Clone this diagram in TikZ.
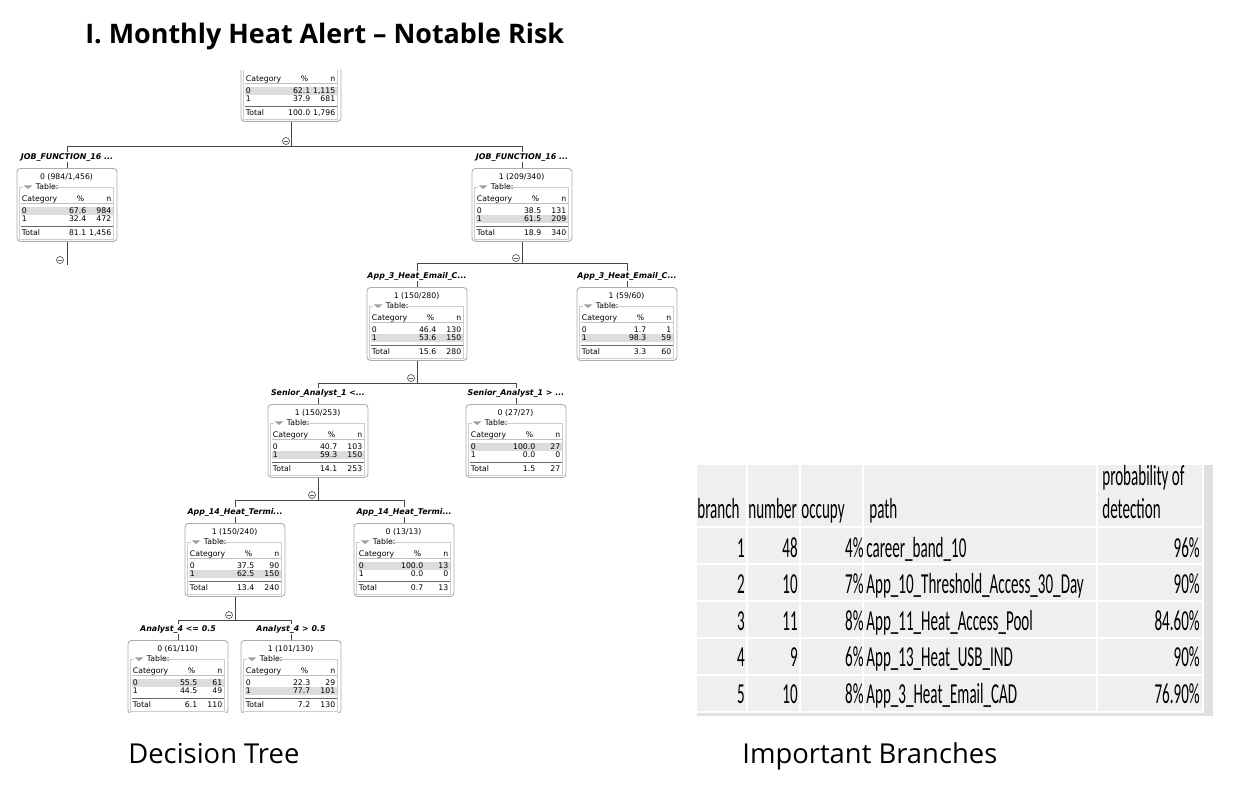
\documentclass[tikz,border=0pt]{standalone}
\usepackage{fontspec}
\usepackage{xcolor}
\usepackage{tikz}
\usetikzlibrary{positioning, calc}

\newfontfamily\headfont{Open Sans}
\newfontfamily\treefont{DejaVu Sans}
\newfontfamily\tabfont[FakeStretch=0.52]{Carlito}

\definecolor{tabbg}{HTML}{EDF0EC}
\definecolor{tabedge}{HTML}{E0E0E0}
\definecolor{rowhl}{HTML}{DCDCDC}

% table inside one tree box: name, class, hits, %0, n0, %1, n1, total %, total n
\newcommand{\boxtable}[9]{%
  \begin{scope}[shift={(#1.north west)}]
    \node[cell] (#1-hd) at (50,9) {#2 (#3/#9)};
    \draw[grp] (6,19) -- (3,19) -- (3,71) -- (97,71) -- (97,19) -- (36,19);
    \fill[gray!75] (7,17.3) -- (16,17.3) -- (11.5,21) -- cycle;
    \node[cell, anchor=west] (#1-tb) at (19,19) {Table:};
    \fill[rowhl] (4,{38.8+8*#2}) rectangle (96,{46.8+8*#2});
    \node[cell, anchor=west] (#1-ct) at (5,31) {Category};
    \node[cell, anchor=east] (#1-pc) at (68,31) {\%};
    \node[cell, anchor=east] (#1-nn) at (95,31) {n};
    \draw[gray!50, line width=0.3pt] (4,35.5) -- (96,35.5);
    \node[cell, anchor=west] (#1-r0) at (5,42.8) {0};
    \node[cell, anchor=east] (#1-p0) at (70,42.8) {#4};
    \node[cell, anchor=east] (#1-n0) at (95,42.8) {#5};
    \node[cell, anchor=west] (#1-r1) at (5,50.8) {1};
    \node[cell, anchor=east] (#1-p1) at (70,50.8) {#6};
    \node[cell, anchor=east] (#1-n1) at (95,50.8) {#7};
    \draw[gray!80!black, line width=0.5pt] (4,58.5) -- (96,58.5);
    \node[cell, anchor=west] (#1-r2) at (5,65) {Total};
    \node[cell, anchor=east] (#1-p2) at (70,65) {#8};
    \node[cell, anchor=east] (#1-n2) at (95,65) {#9};
  \end{scope}}

\begin{document}
\begin{tikzpicture}[
    x=0.02cm, y=-0.02cm,
    tbox/.style={rectangle, draw=gray!65, fill=white, rounded corners=2pt, minimum width=2cm, minimum height=1.46cm, inner sep=0pt, anchor=north, line width=0.5pt},
    cell/.style={font=\treefont\fontsize{4.4}{5}\selectfont, inner sep=0pt},
    split/.style={font=\treefont\bfseries\itshape\fontsize{4.5}{5}\selectfont, fill=white, inner sep=0.6pt},
    tgl/.style={circle, draw=gray!70!black, fill=white, minimum size=0.14cm, inner sep=0pt, line width=0.4pt,
        path picture={\draw[line width=0.4pt] ([xshift=0.8pt]path picture bounding box.west) -- ([xshift=-0.8pt]path picture bounding box.east);}},
    link/.style={draw=gray!55!black, line width=0.5pt},
    grp/.style={draw=gray!40, line width=0.3pt},
    tcell/.style={font=\tabfont\fontsize{16.5}{19}\selectfont, inner sep=0pt, text=black},
    ttl/.style={font=\headfont\bfseries\fontsize{15.3}{18}\selectfont, inner sep=0pt},
    capt/.style={font=\headfont\fontsize{15.6}{18}\selectfont, inner sep=0pt}
]
    \useasboundingbox (0,0) rectangle (1250,796);

    % Title and captions
    \node[ttl, anchor=base west] (title) at (85,43) {I. Monthly Heat Alert – Notable Risk};
    \node[capt, anchor=base west] (cap-tree) at (128,763) {Decision Tree};
    \node[capt, anchor=base west] (cap-tab) at (742,763) {Important Branches};

    % Decision tree
    \begin{scope}
    \clip (0,70) rectangle (700,712);
    \node[tbox] (root) at (291,48) {};
    \node[tbox] (jfl) at (67,168) {};
    \node[tbox] (jfr) at (522,168) {};
    \node[tbox] (eml) at (417,287) {};
    \node[tbox] (emr) at (627,287) {};
    \node[tbox] (sal) at (318,404) {};
    \node[tbox] (sar) at (516,404) {};
    \node[tbox] (tml) at (235,523) {};
    \node[tbox] (tmr) at (404,523) {};
    \node[tbox] (anl) at (178,640) {};
    \node[tbox] (anr) at (291,640) {};

    \boxtable{root}{0}{1,115}{62.1}{1,115}{37.9}{681}{100.0}{1,796}
    \boxtable{jfl}{0}{984}{67.6}{984}{32.4}{472}{81.1}{1,456}
    \boxtable{jfr}{1}{209}{38.5}{131}{61.5}{209}{18.9}{340}
    \boxtable{eml}{1}{150}{46.4}{130}{53.6}{150}{15.6}{280}
    \boxtable{emr}{1}{59}{1.7}{1}{98.3}{59}{3.3}{60}
    \boxtable{sal}{1}{150}{40.7}{103}{59.3}{150}{14.1}{253}
    \boxtable{sar}{0}{27}{100.0}{27}{0.0}{0}{1.5}{27}
    \boxtable{tml}{1}{150}{37.5}{90}{62.5}{150}{13.4}{240}
    \boxtable{tmr}{0}{13}{100.0}{13}{0.0}{0}{0.7}{13}
    \boxtable{anl}{0}{61}{55.5}{61}{44.5}{49}{6.1}{110}
    \boxtable{anr}{1}{101}{22.3}{29}{77.7}{101}{7.2}{130}

    % Splits
    \coordinate (b0) at (291,146);
    \coordinate (b1) at (522,263);
    \coordinate (b2) at (417,383);
    \coordinate (b3) at (318,500);
    \coordinate (b4) at (235,620);
    \coordinate (b5) at (67,265);

    \draw[link] (root.south) -- (b0);
    \draw[link] (jfl.north) |- (b0) -| (jfr.north);
    \draw[link] (jfl.south) -- (b5);
    \draw[link] (jfr.south) -- (b1);
    \draw[link] (eml.north) |- (b1) -| (emr.north);
    \draw[link] (eml.south) -- (b2);
    \draw[link] (sal.north) |- (b2) -| (sar.north);
    \draw[link] (sal.south) -- (b3);
    \draw[link] (tml.north) |- (b3) -| (tmr.north);
    \draw[link] (tml.south) -- (b4);
    \draw[link] (anl.north) |- (b4) -| (anr.north);

    \node[split] (s-jfl) at ($(jfl.north)+(0,-11)$) {JOB\_FUNCTION\_16 ...};
    \node[split] (s-jfr) at ($(jfr.north)+(0,-11)$) {JOB\_FUNCTION\_16 ...};
    \node[split] (s-eml) at ($(eml.north)+(0,-11)$) {App\_3\_Heat\_Email\_C...};
    \node[split] (s-emr) at ($(emr.north)+(0,-11)$) {App\_3\_Heat\_Email\_C...};
    \node[split] (s-sal) at ($(sal.north)+(0,-11)$) {Senior\_Analyst\_1 <...};
    \node[split] (s-sar) at ($(sar.north)+(0,-11)$) {Senior\_Analyst\_1 > ...};
    \node[split] (s-tml) at ($(tml.north)+(0,-11)$) {App\_14\_Heat\_Termi...};
    \node[split] (s-tmr) at ($(tmr.north)+(0,-11)$) {App\_14\_Heat\_Termi...};
    \node[split] (s-anl) at ($(anl.north)+(0,-11)$) {Analyst\_4 <= 0.5};
    \node[split] (s-anr) at ($(anr.north)+(0,-11)$) {Analyst\_4 > 0.5};

    \node[tgl] (t0) at ($(b0)+(-5,-5)$) {};
    \node[tgl] (t1) at ($(b1)+(-6,-5)$) {};
    \node[tgl] (t2) at ($(b2)+(-6,-5)$) {};
    \node[tgl] (t3) at ($(b3)+(-6,-5)$) {};
    \node[tgl] (t4) at ($(b4)+(-6,-5)$) {};
    \node[tgl] (t5) at ($(b5)+(-7,-5)$) {};
    \end{scope}

    % Important branches table
    \fill[tabedge] (697,465) rectangle (1213,716);
    \fill[tabbg] (697,465) rectangle (1203,712);
    \foreach \cx in {747,800,863,1097,1203}
        \draw[white, line width=1.2pt] (\cx,465) -- (\cx,712);
    \foreach \ry in {527,564,601,638,675,712}
        \draw[white, line width=1.2pt] (697,\ry) -- (1203,\ry);

    \node[tcell, anchor=base west] (h-branch) at (697,518) {branch};
    \node[tcell, anchor=base west] (h-number) at (748,518) {number};
    \node[tcell, anchor=base west] (h-occupy) at (801,518) {occupy};
    \node[tcell, anchor=base west] (h-path) at (869,518) {path};
    \node[tcell, anchor=base west] (h-prob) at (1102,485) {probability of};
    \node[tcell, anchor=base west] (h-det) at (1102,518) {detection};

    \foreach \br/\nb/\oc/\pa/\pr [count=\i] in {
        1/48/4/career\_band\_10/96\%,
        2/10/7/App\_10\_Threshold\_Access\_30\_Day/90\%,
        3/11/8/App\_11\_Heat\_Access\_Pool/84.60\%,
        4/9/6/App\_13\_Heat\_USB\_IND/90\%,
        5/10/8/App\_3\_Heat\_Email\_CAD/76.90\%}{
        \pgfmathsetmacro{\yb}{557+36.5*(\i-1)}
        \node[tcell, anchor=base east] (br\i) at (745,\yb) {\br};
        \node[tcell, anchor=base east] (nb\i) at (798,\yb) {\nb};
        \node[tcell, anchor=base east] (oc\i) at (864,\yb) {\oc\%};
        \node[tcell, anchor=base west] (pa\i) at (866,\yb) {\pa};
        \node[tcell, anchor=base east] (pr\i) at (1200,\yb) {\pr};
    }
\end{tikzpicture}
\end{document}
